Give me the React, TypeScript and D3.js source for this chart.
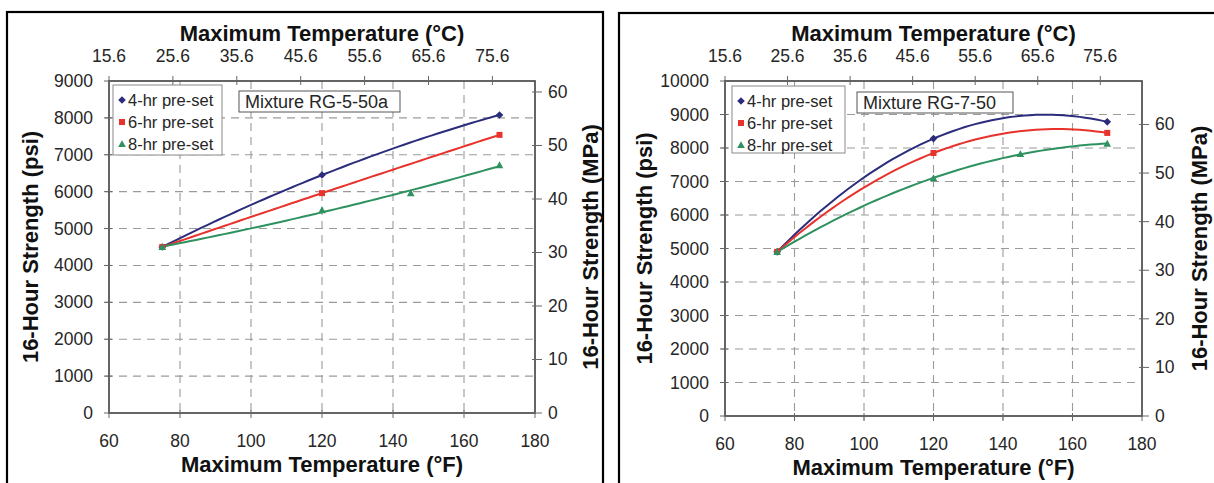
import React from "react";
import * as d3 from "d3";

// ---------- data ----------
const seriesNames = ["4-hr pre-set", "6-hr pre-set", "8-hr pre-set"];
const seriesColors = ["#2c2c7c", "#e8322c", "#2e9160"];
const seriesMarkers = ["diamond", "square", "triangle"];

// Panel A: Mixture RG-5-50a
const a4Temps = [75, 120, 170];
const a4Psi = [4500, 6450, 8080];
const a6Temps = [75, 120, 170];
const a6Psi = [4500, 5960, 7540];
const a8Temps = [75, 120, 145, 170];
const a8Psi = [4500, 5500, 5960, 6720];

// Panel B: Mixture RG-7-50
const b4Temps = [75, 120, 170];
const b4Psi = [4900, 8280, 8780];
const b6Temps = [75, 120, 170];
const b6Psi = [4900, 7850, 8450];
const b8Temps = [75, 120, 145, 170];
const b8Psi = [4900, 7100, 7820, 8130];

const xTicksF = [60, 80, 100, 120, 140, 160, 180];
const topTicksF = [60, 78, 96, 114, 132, 150, 168];
const topTickLabels = ["15.6", "25.6", "35.6", "45.6", "55.6", "65.6", "75.6"];
const mpaTicks = [0, 10, 20, 30, 40, 50, 60];
const PSI_PER_MPA = 145.038;
const aPsiTicks = [0, 1000, 2000, 3000, 4000, 5000, 6000, 7000, 8000, 9000];
const bPsiTicks = [0, 1000, 2000, 3000, 4000, 5000, 6000, 7000, 8000, 9000, 10000];

const FONT = "Arial, 'Liberation Sans', Helvetica, sans-serif";
const TICK_FS = 17.5;
const TITLE_FS = 22;
const TXT = "#262626";

function quadFit(xs: number[], ys: number[]) {
  // least squares y = c0 + c1 x + c2 x^2
  const s = [0, 0, 0, 0, 0];
  const t = [0, 0, 0];
  xs.forEach((x, i) => {
    const y = ys[i];
    for (let k = 0; k < 5; k++) s[k] += Math.pow(x, k);
    for (let k = 0; k < 3; k++) t[k] += y * Math.pow(x, k);
  });
  const M = [
    [s[0], s[1], s[2], t[0]],
    [s[1], s[2], s[3], t[1]],
    [s[2], s[3], s[4], t[2]],
  ];
  for (let i = 0; i < 3; i++) {
    let p = i;
    for (let r = i + 1; r < 3; r++) if (Math.abs(M[r][i]) > Math.abs(M[p][i])) p = r;
    [M[i], M[p]] = [M[p], M[i]];
    for (let r = 0; r < 3; r++) {
      if (r === i) continue;
      const f = M[r][i] / M[i][i];
      for (let c = i; c < 4; c++) M[r][c] -= f * M[i][c];
    }
  }
  const c = [M[0][3] / M[0][0], M[1][3] / M[1][1], M[2][3] / M[2][2]];
  return (x: number) => c[0] + c[1] * x + c[2] * x * x;
}

type Series = { temps: number[]; psi: number[] };

type PanelProps = {
  frame: { x: number; y: number; w: number; h: number };
  plot: { x0: number; x1: number; y0: number; y1: number };
  yMax: number;
  psiTicks: number[];
  series: Series[];
  legend: { x: number; y: number; w: number; h: number };
  mixBox: { x: number; y: number; w: number; h: number };
  mixture: string;
  leftTitleX: number;
  rightTitleX: number;
};

function Marker({ kind, x, y, color }: { kind: string; x: number; y: number; color: string }) {
  if (kind === "diamond") {
    const r = 3.8;
    return <path d={`M${x},${y - r}L${x + r},${y}L${x},${y + r}L${x - r},${y}Z`} fill={color} />;
  }
  if (kind === "square") {
    const r = 3;
    return <rect x={x - r} y={y - r} width={2 * r} height={2 * r} fill={color} />;
  }
  const r = 3.8;
  return <path d={`M${x},${y - r}L${x + r},${y + r * 0.8}L${x - r},${y + r * 0.8}Z`} fill={color} />;
}

function Panel(p: PanelProps) {
  const { plot } = p;
  const x = d3.scaleLinear().domain([60, 180]).range([plot.x0, plot.x1]);
  const y = d3.scaleLinear().domain([0, p.yMax]).range([plot.y1, plot.y0]);
  const line = d3
    .line<[number, number]>()
    .x((d) => x(d[0]))
    .y((d) => y(d[1]))
    .curve(d3.curveLinear);
  const cx = (plot.x0 + plot.x1) / 2;
  const cy = (plot.y0 + plot.y1) / 2;
  const grid = "#9a9a9a";
  return (
    <g>
      {/* frame */}
      <rect x={p.frame.x} y={p.frame.y} width={p.frame.w} height={p.frame.h} fill="#fff" stroke="#000" strokeWidth={2.2} />
      {/* grid */}
      {p.psiTicks.filter((v) => v > 0 && v < p.yMax).map((v) => (
        <line key={"h" + v} x1={plot.x0 - 4} x2={plot.x1} y1={y(v)} y2={y(v)} stroke={grid} strokeWidth={1.1} strokeDasharray="8,6" />
      ))}
      {xTicksF.filter((v) => v > 60 && v < 180).map((v) => (
        <line key={"v" + v} x1={x(v)} x2={x(v)} y1={plot.y0} y2={plot.y1 + 4} stroke={grid} strokeWidth={1.1} strokeDasharray="8,6" />
      ))}
      {/* plot border */}
      <rect x={plot.x0} y={plot.y0} width={plot.x1 - plot.x0} height={plot.y1 - plot.y0} fill="none" stroke="#4a4a4a" strokeWidth={1.7} />
      {/* left ticks */}
      {p.psiTicks.map((v) => (
        <g key={"lt" + v}>
          <line x1={plot.x0 - 5} x2={plot.x0 + 3} y1={y(v)} y2={y(v)} stroke="#666" strokeWidth={1} />
          <text x={plot.x0 - 16} y={y(v) + 6} textAnchor="end" fontSize={TICK_FS} fontFamily={FONT} fill={TXT}>
            {v}
          </text>
        </g>
      ))}
      {/* bottom ticks */}
      {xTicksF.map((v) => (
        <g key={"bt" + v}>
          <line x1={x(v)} x2={x(v)} y1={plot.y1 - 3} y2={plot.y1 + 5} stroke="#666" strokeWidth={1} />
          <text x={x(v)} y={plot.y1 + 34} textAnchor="middle" fontSize={TICK_FS} fontFamily={FONT} fill={TXT}>
            {v}
          </text>
        </g>
      ))}
      {/* top ticks (°C) */}
      {topTicksF.map((v, i) => (
        <g key={"tt" + v}>
          <line x1={x(v)} x2={x(v)} y1={plot.y0 - 5} y2={plot.y0 + 4} stroke="#666" strokeWidth={1} />
          <text x={x(v)} y={plot.y0 - 19} textAnchor="middle" fontSize={TICK_FS} fontFamily={FONT} fill={TXT}>
            {topTickLabels[i]}
          </text>
        </g>
      ))}
      {/* right ticks (MPa) */}
      {mpaTicks.map((v) => (
        <g key={"rt" + v}>
          <line x1={plot.x1 - 3} x2={plot.x1 + 7} y1={y(v * PSI_PER_MPA)} y2={y(v * PSI_PER_MPA)} stroke="#666" strokeWidth={1} />
          <text x={plot.x1 + 13} y={y(v * PSI_PER_MPA) + 6} textAnchor="start" fontSize={TICK_FS} fontFamily={FONT} fill={TXT}>
            {v}
          </text>
        </g>
      ))}
      {/* curves */}
      {p.series.map((s, i) => {
        const f = quadFit(s.temps, s.psi);
        const lo = d3.min(s.temps)!;
        const hi = d3.max(s.temps)!;
        const pts: [number, number][] = d3.range(0, 61).map((k) => {
          const t = lo + ((hi - lo) * k) / 60;
          return [t, f(t)];
        });
        return <path key={"c" + i} d={line(pts)!} fill="none" stroke={seriesColors[i]} strokeWidth={2} />;
      })}
      {p.series.map((s, i) =>
        s.temps.map((t, j) => (
          <Marker key={"m" + i + "-" + j} kind={seriesMarkers[i]} x={x(t)} y={y(s.psi[j])} color={seriesColors[i]} />
        ))
      )}
      {/* legend */}
      <rect x={p.legend.x} y={p.legend.y} width={p.legend.w} height={p.legend.h} fill="#fff" stroke="#8a8a8a" strokeWidth={1} />
      {seriesNames.map((n, i) => (
        <g key={"lg" + i}>
          <Marker kind={seriesMarkers[i]} x={p.legend.x + 9} y={p.legend.y + 15 + i * 22} color={seriesColors[i]} />
          <text x={p.legend.x + 15} y={p.legend.y + 21 + i * 22} fontSize={16.5} fontFamily={FONT} fill={TXT}>
            {n}
          </text>
        </g>
      ))}
      {/* mixture box */}
      <rect x={p.mixBox.x} y={p.mixBox.y} width={p.mixBox.w} height={p.mixBox.h} fill="#fff" stroke="#555" strokeWidth={1} />
      <text x={p.mixBox.x + 6} y={p.mixBox.y + p.mixBox.h - 4} fontSize={18} fontFamily={FONT} fill={TXT}>
        {p.mixture}
      </text>
      {/* titles */}
      <text x={cx} y={41} textAnchor="middle" fontSize={TITLE_FS} fontWeight="bold" fontFamily={FONT} fill="#111">
        Maximum Temperature (°C)
      </text>
      <text x={cx} y={plot.y1 + 59} textAnchor="middle" fontSize={TITLE_FS} fontWeight="bold" fontFamily={FONT} fill="#111">
        Maximum Temperature (°F)
      </text>
      <text transform={`translate(${p.leftTitleX},${cy}) rotate(-90)`} textAnchor="middle" fontSize={TITLE_FS} fontWeight="bold" fontFamily={FONT} fill="#111">
        16-Hour Strength (psi)
      </text>
      <text transform={`translate(${p.rightTitleX},${cy}) rotate(-90)`} textAnchor="middle" fontSize={TITLE_FS} fontWeight="bold" fontFamily={FONT} fill="#111">
        16-Hour Strength (MPa)
      </text>
    </g>
  );
}

export default function App() {
  return (
    <div style={{ position: "fixed", left: 0, top: 0 }}>
      <svg width={1214} height={483} style={{ display: "block", background: "#fff" }}>
        <Panel
          frame={{ x: 7, y: 12, w: 596, h: 520 }}
          plot={{ x0: 109, x1: 535, y0: 81, y1: 413 }}
          yMax={9000}
          psiTicks={aPsiTicks}
          series={[
            { temps: a4Temps, psi: a4Psi },
            { temps: a6Temps, psi: a6Psi },
            { temps: a8Temps, psi: a8Psi },
          ]}
          legend={{ x: 113, y: 85, w: 109, h: 70 }}
          mixBox={{ x: 239, y: 91, w: 161, h: 21 }}
          mixture="Mixture RG-5-50a"
          leftTitleX={38}
          rightTitleX={598}
        />
        <Panel
          frame={{ x: 619, y: 13, w: 640, h: 520 }}
          plot={{ x0: 725, x1: 1142, y0: 81, y1: 416 }}
          yMax={10000}
          psiTicks={bPsiTicks}
          series={[
            { temps: b4Temps, psi: b4Psi },
            { temps: b6Temps, psi: b6Psi },
            { temps: b8Temps, psi: b8Psi },
          ]}
          legend={{ x: 732, y: 86, w: 113, h: 67 }}
          mixBox={{ x: 857, y: 92, w: 156, h: 21 }}
          mixture="Mixture RG-7-50"
          leftTitleX={652}
          rightTitleX={1207}
        />
      </svg>
    </div>
  );
}
